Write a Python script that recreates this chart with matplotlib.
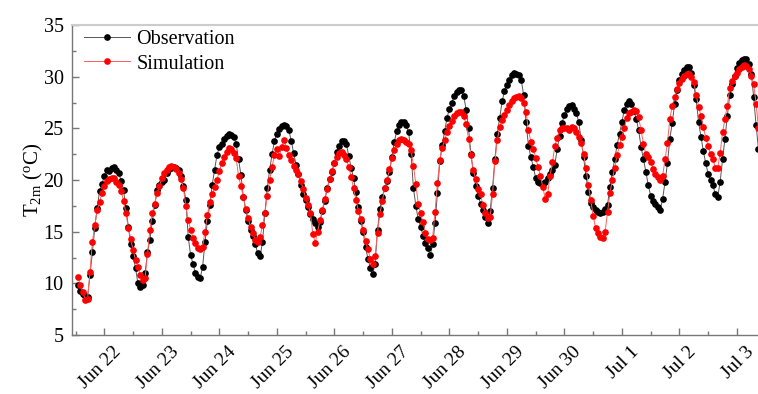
import matplotlib
matplotlib.use("Agg")
import matplotlib.pyplot as plt
import matplotlib.dates as mdates
import matplotlib.transforms as mtransforms
import pandas as pd

# hourly 2 m air temperature (degC), starting 21 Jun 13:00
start_time = "2013-06-21 13:00"

obs = [
    9.8, 9.3, 9.0, 8.8, 8.7, 10.8, 13.0, 15.4, 17.3, 18.9, 19.6, 20.4,
    21.0, 20.9, 21.2, 21.3, 21.0, 20.7, 19.9, 19.0, 17.3, 15.5, 13.8, 12.6,
    11.5, 10.0, 9.6, 9.8, 11.0, 13.0, 14.2, 16.0, 17.6, 19.0, 19.5, 19.8,
    20.0, 20.7, 21.1, 21.2, 21.3, 21.2, 21.0, 20.4, 19.4, 18.1, 14.5, 12.7,
    11.9, 11.0, 10.6, 10.5, 11.6, 14.0, 16.0, 17.6, 19.5, 21.0, 22.4, 23.2,
    23.5, 24.0, 24.3, 24.5, 24.4, 24.2, 23.5, 22.0, 20.5, 18.4, 17.1, 16.0,
    15.2, 14.6, 13.8, 12.9, 12.6, 14.0, 16.8, 19.2, 21.0, 22.5, 23.8, 24.5,
    24.9, 25.2, 25.3, 25.2, 24.8, 23.8, 22.6, 21.5, 20.6, 19.5, 18.6, 18.1,
    17.4, 16.7, 16.2, 15.8, 15.5, 15.9, 17.0, 18.0, 19.2, 20.1, 20.8, 21.6,
    22.7, 23.3, 23.8, 23.8, 23.5, 22.3, 21.2, 20.2, 18.8, 17.4, 16.0, 15.0,
    13.5, 12.4, 11.5, 10.9, 11.9, 15.2, 17.2, 18.4, 19.2, 19.9, 20.8, 22.2,
    23.7, 24.7, 25.3, 25.6, 25.6, 25.3, 24.6, 22.5, 19.2, 17.5, 16.2, 15.5,
    14.6, 13.9, 13.4, 12.7, 13.8, 15.8, 18.7, 21.8, 23.4, 24.7, 26.0, 26.9,
    27.5, 28.1, 28.5, 28.7, 28.7, 28.1, 26.8, 25.0, 22.5, 20.7, 19.4, 18.5,
    17.7, 17.1, 16.4, 15.8, 17.0, 19.2, 22.0, 24.5, 26.0, 27.6, 28.6, 29.2,
    29.7, 30.2, 30.4, 30.3, 30.2, 29.7, 28.2, 25.6, 23.3, 22.2, 21.3, 20.2,
    19.8, 19.7, 19.6, 19.8, 20.2, 20.6, 21.0, 21.5, 23.0, 24.3, 25.5, 26.3,
    26.9, 27.2, 27.3, 26.9, 26.5, 25.6, 23.9, 22.2, 20.4, 18.8, 17.8, 17.4,
    17.1, 16.9, 16.8, 16.9, 17.2, 17.6, 19.3, 20.8, 22.0, 23.4, 24.5, 25.6,
    26.8, 27.4, 27.6, 27.4, 26.7, 25.9, 24.8, 23.2, 22.0, 20.8, 19.5, 18.5,
    18.0, 17.7, 17.4, 17.1, 18.2, 19.8, 21.6, 24.0, 25.5, 27.4, 28.7, 29.7,
    30.3, 30.6, 30.9, 30.9, 30.4, 29.2, 27.8, 25.6, 24.2, 22.8, 21.6, 20.6,
    20.0, 19.5, 18.6, 18.4, 19.8, 22.0, 24.0, 26.2, 28.2, 29.3, 30.1, 30.8,
    31.3, 31.6, 31.7, 31.7, 31.2, 30.3, 28.0, 25.3, 23.0,
]

sim = [
    10.6, 9.8, 9.2, 8.4, 8.5, 11.1, 14.0, 15.6, 17.1, 17.9, 18.7, 19.4,
    19.9, 20.1, 20.2, 20.2, 19.8, 19.5, 18.9, 18.0, 16.8, 15.4, 14.3, 13.2,
    12.3, 11.6, 10.8, 10.3, 10.5, 12.8, 15.2, 16.8, 17.7, 18.7, 19.4, 20.2,
    20.7, 21.0, 21.3, 21.4, 21.3, 21.1, 20.7, 20.1, 19.2, 17.5, 16.1, 15.2,
    14.4, 13.9, 13.4, 13.3, 13.5, 15.0, 16.6, 17.9, 18.6, 19.3, 20.0, 20.9,
    21.6, 22.2, 22.7, 23.1, 23.0, 22.6, 22.1, 20.4, 19.4, 18.4, 17.2, 16.3,
    15.5, 14.9, 14.2, 14.0, 14.5, 15.6, 16.8, 18.5, 20.0, 21.3, 22.4, 23.0,
    22.3, 23.2, 23.9, 23.1, 22.4, 21.9, 21.4, 21.0, 20.6, 19.9, 19.1, 18.3,
    17.6, 16.8, 14.8, 13.9, 15.0, 16.1, 17.1, 18.2, 19.1, 20.1, 20.9, 21.6,
    22.2, 22.6, 22.7, 22.4, 22.0, 21.3, 20.3, 19.2, 18.1, 17.0, 16.2, 15.2,
    14.1, 13.3, 12.4, 11.9, 12.6, 14.9, 16.7, 18.0, 19.2, 20.0, 21.1, 22.1,
    22.9, 23.5, 23.9, 24.0, 23.9, 23.7, 23.5, 22.9, 21.4, 19.6, 17.7, 16.8,
    15.9, 14.9, 14.3, 14.2, 14.4, 16.9, 19.7, 21.9, 23.1, 23.9, 24.6, 25.2,
    25.7, 26.2, 26.5, 26.6, 26.6, 26.2, 25.4, 24.0, 22.4, 21.0, 20.1, 19.1,
    18.6, 17.6, 16.8, 16.3, 16.4, 18.6, 21.8, 23.9, 25.1, 25.8, 26.3, 26.8,
    27.3, 27.6, 27.9, 28.0, 28.1, 27.9, 27.5, 26.6, 24.8, 23.7, 23.0, 22.1,
    21.3, 20.4, 19.3, 18.2, 18.6, 20.4, 21.7, 23.3, 24.1, 24.8, 25.0, 25.0,
    25.0, 24.8, 25.1, 25.0, 24.6, 24.2, 23.6, 22.5, 21.2, 19.5, 18.1, 16.5,
    15.4, 14.9, 14.5, 14.4, 15.0, 16.9, 18.7, 20.0, 21.2, 22.4, 23.4, 24.2,
    25.0, 26.0, 26.5, 26.6, 26.8, 26.7, 26.1, 24.8, 23.5, 22.5, 22.2, 21.7,
    21.1, 20.6, 20.3, 20.0, 20.4, 22.0, 23.6, 25.9, 27.2, 28.0, 28.8, 29.4,
    29.8, 30.1, 30.3, 30.3, 30.0, 29.5, 28.2, 27.1, 26.2, 25.1, 24.1, 23.3,
    22.5, 22.0, 21.2, 21.2, 22.6, 24.6, 25.9, 27.2, 28.9, 29.6, 30.1, 30.4,
    30.7, 30.9, 31.1, 31.0, 30.7, 30.1, 29.3, 27.4, 25.0,
]

times = pd.date_range(start_time, periods=len(obs), freq="h")

plt.rcParams["font.family"] = ["Liberation Serif", "DejaVu Serif"]
plt.rcParams["mathtext.fontset"] = "custom"
plt.rcParams["mathtext.rm"] = "Liberation Serif"
plt.rcParams["mathtext.it"] = "Liberation Serif:italic"

fig = plt.figure(figsize=(7.58, 3.94), dpi=100)
ax = fig.add_axes([0.095, 0.1497, 0.905, 0.7868])

# observation underneath, simulation on top
ax.plot(times, obs, color="#555555", lw=0.7, marker="o", ms=3.8,
        mfc="black", mec="black", label="Observation")
ax.plot(times, sim, color="#ff6060", lw=0.7, marker="o", ms=3.8,
        mfc="red", mec="red", label="Simulation")

t0 = pd.Timestamp(start_time)
ax.set_xlim(t0 - pd.Timedelta(hours=2.5), t0 + pd.Timedelta(hours=283.8))
ax.set_ylim(5, 35)
ax.set_yticks([5, 10, 15, 20, 25, 30, 35])
ax.set_yticks([7.5, 12.5, 17.5, 22.5, 27.5, 32.5], minor=True)

ax.xaxis.set_major_locator(mdates.DayLocator())
ax.xaxis.set_minor_locator(mdates.HourLocator(byhour=[12]))
ax.xaxis.set_major_formatter(
    plt.FuncFormatter(lambda v, p: f"{mdates.num2date(v):%b} {mdates.num2date(v).day}"))

ax.tick_params(axis="both", which="both", direction="in", color="#777777")
ax.tick_params(axis="y", labelsize=14.5, pad=6)
ax.tick_params(axis="x", labelsize=14, pad=6)
ax.tick_params(axis="both", which="major", length=5, width=1)
ax.tick_params(axis="both", which="minor", length=3, width=1)

shift = mtransforms.ScaledTranslation(0.20, 0, fig.dpi_scale_trans)
for lab in ax.get_xticklabels():
    lab.set_rotation(45)
    lab.set_ha("right")
    lab.set_transform(lab.get_transform() + shift)

for side in ("left", "bottom"):
    ax.spines[side].set_color("#777777")
    ax.spines[side].set_linewidth(1)
ax.spines["top"].set_color("#cccccc")
ax.spines["top"].set_linewidth(1.5)
ax.spines["right"].set_visible(False)

ax.set_ylabel(r"T$_{\rm 2m}$ ($^{\rm o}$C)", fontsize=15)
ax.yaxis.set_label_coords(-0.04, 0.5)

ax.legend(loc="upper left", frameon=False, fontsize=14.5, handlelength=2.3,
          handletextpad=0.3, labelspacing=0.25, borderaxespad=0.2,
          bbox_to_anchor=(0.0, 1.022))

fig.savefig("out.png", dpi=100)
